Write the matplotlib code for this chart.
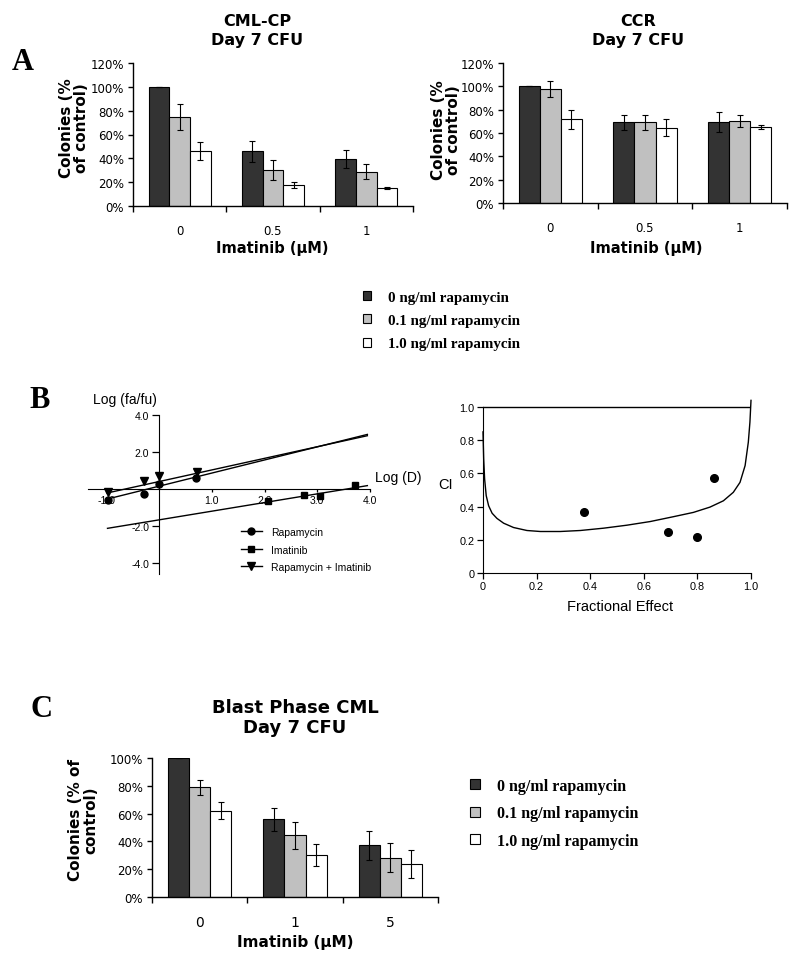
import numpy as np
import matplotlib
matplotlib.use('Agg')
import matplotlib.pyplot as plt
from matplotlib.lines import Line2D
from matplotlib.font_manager import FontProperties

W, H = 800, 962

# ---- panel A / C data (percent of control) ----
series_labels = ['0 ng/ml rapamycin', '0.1 ng/ml rapamycin', '1.0 ng/ml rapamycin']
series_colors = ['#333333', '#c0c0c0', '#ffffff']

cml_cp_cats = ['0', '0.5', '1']
cml_cp_vals = [[100, 45.8, 39.3], [75, 30, 28.7], [45.8, 18, 15.2]]
cml_cp_errs = [[0, 8.5, 7.5], [11, 8.5, 6.3], [7.5, 2.5, 1.0]]

ccr_cats = ['0', '0.5', '1']
ccr_vals = [[100, 69.2, 69.7], [98, 69.2, 70.3], [71.8, 64.6, 65.1]]
ccr_errs = [[0, 6.2, 8.6], [7, 6.5, 4.8], [8, 7, 1.9]]

blast_cats = ['0', '1', '5']
blast_vals = [[100, 55.9, 37.1], [79, 44.3, 28.4], [62.2, 30.4, 23.6]]
blast_errs = [[0, 8.4, 10.6], [5.5, 10, 10.4], [5.8, 8, 10]]

# ---- panel B median-effect plot ----
rapa_x = [-0.98, -0.29, 0.0, 0.70]
rapa_y = [-0.59, -0.27, 0.27, 0.59]
ima_x = [2.06, 2.74, 3.05, 3.72]
ima_y = [-0.63, -0.31, -0.40, 0.22]
combo_x = [-0.97, -0.28, 0.0, 0.71]
combo_y = [-0.16, 0.43, 0.70, 0.92]
# fitted lines (end points)
rapa_fit_x, rapa_fit_y = [-0.99, 3.95], [-0.55, 2.95]
combo_fit_x, combo_fit_y = [-0.99, 3.95], [-0.22, 2.88]
ima_fit_x, ima_fit_y = [-0.98, 3.95], [-2.13, 0.18]

# ---- panel B CI plot ----
ci_fa = [0.375, 0.692, 0.80, 0.862]
ci_val = [0.365, 0.248, 0.218, 0.57]
curve_fa = [0.0, 0.0025, 0.006, 0.012, 0.021, 0.034, 0.052, 0.077, 0.114, 0.164,
            0.214, 0.288, 0.363, 0.45, 0.537, 0.624, 0.71, 0.785, 0.847, 0.897,
            0.934, 0.959, 0.978, 0.99, 0.996, 1.0]
curve_ci = [0.85, 0.69, 0.567, 0.466, 0.405, 0.36, 0.329, 0.30, 0.274, 0.256,
            0.25, 0.25, 0.256, 0.27, 0.288, 0.31, 0.339, 0.365, 0.397, 0.435,
            0.486, 0.546, 0.647, 0.788, 0.909, 1.04]

fig = plt.figure(figsize=(W / 100, H / 100), dpi=100)


def px_axes(x0, y0, x1, y1):
    return fig.add_axes([x0 / W, 1 - y1 / H, (x1 - x0) / W, (y1 - y0) / H])


def ftext(x, y, s, **kw):
    return fig.text(x / W, 1 - y / H, s, **kw)


def bar_panel(ax, cats, vals, errs, ymax, tick_fs, xl_fs):
    x = np.arange(len(cats))
    bw = 0.222
    conts = []
    for i in range(3):
        c = ax.bar(x + (i - 1) * bw, vals[i], bw, color=series_colors[i],
                   edgecolor='black', linewidth=0.8, yerr=errs[i],
                   error_kw=dict(ecolor='black', elinewidth=0.8, capsize=2.5, capthick=0.8))
        conts.append(c)
    ax.set_xlim(-0.5, len(cats) - 0.5)
    ax.set_ylim(0, ymax)
    ax.set_yticks(np.arange(0, ymax + 1, 20))
    ax.set_yticklabels(['%d%%' % v for v in np.arange(0, ymax + 1, 20)], fontsize=tick_fs)
    ax.set_xticks(x)
    ax.set_xticklabels(cats, fontsize=xl_fs)
    ax.set_xticks(np.arange(-0.5, len(cats), 1.0), minor=True)
    ax.tick_params(axis='x', which='major', length=0, pad=13)
    ax.tick_params(axis='x', which='minor', length=4, width=1, direction='out')
    ax.tick_params(axis='y', length=3.5, width=1, pad=3)
    for s in ['top', 'right']:
        ax.spines[s].set_visible(False)
    for s in ['left', 'bottom']:
        ax.spines[s].set_linewidth(1.0)
    return conts


# ---------------- Panel A ----------------
axA1 = px_axes(133, 64, 413, 207)
contsA = bar_panel(axA1, cml_cp_cats, cml_cp_vals, cml_cp_errs, 120, 8.5, 8.5)
axA2 = px_axes(503, 64, 787, 204)
bar_panel(axA2, ccr_cats, ccr_vals, ccr_errs, 120, 8.5, 8.5)

ftext(257, 31, 'CML-CP\nDay 7 CFU', ha='center', va='center', fontsize=11.5,
      fontweight='bold', linespacing=1.25)
ftext(638, 31, 'CCR\nDay 7 CFU', ha='center', va='center', fontsize=11.5,
      fontweight='bold', linespacing=1.25)
ftext(74, 128, 'Colonies (%\nof control)', rotation=90, ha='center', va='center',
      fontsize=11, fontweight='bold', multialignment='center', linespacing=1.0)
ftext(446, 130, 'Colonies (%\nof control)', rotation=90, ha='center', va='center',
      fontsize=11, fontweight='bold', multialignment='center', linespacing=1.0)
ftext(272, 249, 'Imatinib (μM)', ha='center', va='center', fontsize=10.5, fontweight='bold')
ftext(646, 248, 'Imatinib (μM)', ha='center', va='center', fontsize=10.5, fontweight='bold')

serif_bold = FontProperties(family='Liberation Serif', weight='bold', size=10.8)
fig.legend(contsA, series_labels, loc='upper left', bbox_to_anchor=(363 / W, 1 - 292 / H),
           frameon=False, prop=serif_bold, handlelength=0.55, handleheight=0.55,
           handletextpad=1.15, labelspacing=0.68, borderpad=0, borderaxespad=0)

# ---------------- Panel B left ----------------
sans = 'Liberation Sans'
axB1 = px_axes(88, 416, 370, 575)
axB1.plot(rapa_fit_x, rapa_fit_y, color='black', lw=1)
axB1.plot(combo_fit_x, combo_fit_y, color='black', lw=1)
axB1.plot(ima_fit_x, ima_fit_y, color='black', lw=1)
axB1.plot(rapa_x, rapa_y, 'o', color='black', ms=5, clip_on=False)
axB1.plot(ima_x, ima_y, 's', color='black', ms=4.8, clip_on=False)
axB1.plot(combo_x, combo_y, 'v', color='black', ms=5.5, clip_on=False)
axB1.set_xlim(-1.35, 4.0)
axB1.set_ylim(-4.6, 4.0)
axB1.spines['left'].set_position(('data', 0))
axB1.spines['bottom'].set_position(('data', 0))
axB1.spines['top'].set_visible(False)
axB1.spines['right'].set_visible(False)
axB1.spines['left'].set_bounds(-4.6, 4.0)
axB1.set_yticks([-4, -2, 2, 4])
axB1.set_yticklabels(['-4.0', '-2.0', '2.0', '4.0'], fontfamily=sans, fontsize=7.5)
axB1.set_xticks([-1, 1, 2, 3, 4])
axB1.set_xticklabels(['-1.0', '1.0', '2.0', '3.0', '4.0'], fontfamily=sans, fontsize=7.5)
axB1.tick_params(axis='y', length=5, width=0.9, pad=2)
axB1.tick_params(axis='x', length=2.5, width=0.9, pad=1.5)
ftext(93, 400, 'Log (fa/fu)', ha='left', va='center', fontsize=10, fontfamily=sans)
ftext(375, 478, 'Log (D)', ha='left', va='center', fontsize=10, fontfamily=sans)
leg_handles = [Line2D([], [], color='black', lw=1, marker='o', ms=5),
               Line2D([], [], color='black', lw=1, marker='s', ms=4.8),
               Line2D([], [], color='black', lw=1, marker='v', ms=5.5)]
axB1.legend(leg_handles, ['Rapamycin', 'Imatinib', 'Rapamycin + Imatinib'],
            loc='upper left', bbox_to_anchor=(241 / W, 1 - 528 / H),
            bbox_transform=fig.transFigure, frameon=False,
            prop=FontProperties(family=sans, size=7.5), handlelength=2.0,
            handletextpad=0.9, labelspacing=0.72, borderpad=0, borderaxespad=0)

# ---------------- Panel B right ----------------
axB2 = px_axes(483, 574 - 1.05 * 166, 751, 574)
axB2.plot(curve_fa, curve_ci, color='black', lw=1, clip_on=False)
axB2.plot([0, 1], [1, 1], color='black', lw=1)
axB2.plot(ci_fa, ci_val, 'o', color='black', ms=5.5)
axB2.set_xlim(0, 1.0)
axB2.set_ylim(0, 1.05)
axB2.spines['top'].set_visible(False)
axB2.spines['right'].set_visible(False)
axB2.spines['left'].set_bounds(0, 1.0)
axB2.set_yticks([0, 0.2, 0.4, 0.6, 0.8, 1.0])
axB2.set_yticklabels(['0', '0.2', '0.4', '0.6', '0.8', '1.0'], fontfamily=sans, fontsize=7.8)
axB2.set_xticks([0, 0.2, 0.4, 0.6, 0.8, 1.0])
axB2.set_xticklabels(['0', '0.2', '0.4', '0.6', '0.8', '1.0'], fontfamily=sans, fontsize=7.8)
axB2.tick_params(length=4, width=0.9, pad=2)
ftext(438, 485, 'CI', ha='left', va='center', fontsize=10.5, fontfamily=sans)
ftext(620, 607, 'Fractional Effect', ha='center', va='center', fontsize=10.5, fontfamily=sans)

# ---------------- Panel C ----------------
axC = px_axes(152, 759, 438, 898)
contsC = bar_panel(axC, blast_cats, blast_vals, blast_errs, 100, 8.5, 10)
ftext(295, 718, 'Blast Phase CML\nDay 7 CFU', ha='center', va='center', fontsize=13,
      fontweight='bold', linespacing=1.2)
ftext(83, 820, 'Colonies (% of\ncontrol)', rotation=90, ha='center', va='center',
      fontsize=11, fontweight='bold', multialignment='center', linespacing=1.0)
ftext(295, 943, 'Imatinib (μM)', ha='center', va='center', fontsize=11, fontweight='bold')
fig.legend(contsC, series_labels, loc='upper left', bbox_to_anchor=(470 / W, 1 - 779 / H),
           frameon=False, prop=FontProperties(family='Liberation Serif', weight='bold', size=11.5),
           handlelength=0.6, handleheight=0.6, handletextpad=1.1, labelspacing=0.72,
           borderpad=0, borderaxespad=0)

# ---------------- panel letters ----------------
for lx, ly, letter in [(23, 62, 'A'), (40, 401, 'B'), (41, 710, 'C')]:
    ftext(lx, ly, letter, ha='center', va='center', fontsize=22,
          fontfamily='Liberation Serif', fontweight='bold')

fig.savefig('out.png', dpi=100)
